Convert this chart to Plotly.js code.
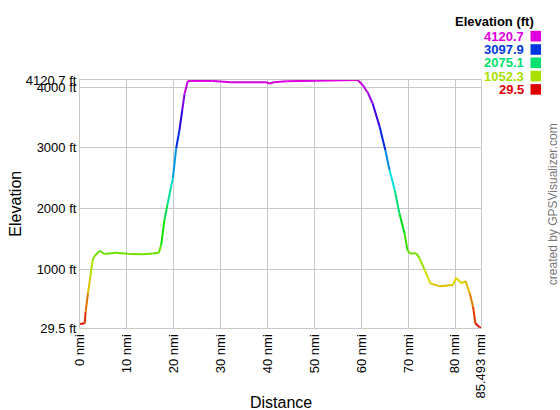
<!DOCTYPE html>
<html><head><meta charset="utf-8">
<script src="https://cdn.plot.ly/plotly-3.0.1.min.js"></script>
<style>html,body{margin:0;padding:0;background:#fff}#chart{width:560px;height:410px}</style>
</head><body><div id="chart"></div>
<script>
const distance = [0, 1.0, 1.2, 1.7, 2.2, 2.7, 3.1, 4.2, 5.2, 7.7, 10.6, 13.4, 15.5, 16.8, 17.3, 18.0, 18.7, 19.4, 19.8, 20.5, 21.2, 21.8, 22.3, 23.0, 28.3, 32.2, 39.7, 40.5, 41.3, 44.0, 50.4, 59.2, 60.3, 61.4, 62.4, 63.9, 65.1, 66.0, 67.1, 68.1, 69.2, 69.8, 70.3, 71.7, 72.4, 73.5, 74.7, 76.7, 79.5, 80.2, 81.3, 82.2, 83.1, 83.8, 84.3, 85.2, 85.493];
const elevation = [95, 107, 298, 605, 875, 1150, 1216, 1303, 1250, 1270, 1250, 1245, 1260, 1270, 1397, 1810, 2085, 2358, 2500, 2990, 3293, 3622, 3897, 4105, 4105, 4083, 4083, 4062, 4083, 4100, 4110, 4120.7, 4034, 3906, 3732, 3347, 2962, 2633, 2304, 1920, 1590, 1315, 1260, 1260, 1178, 985, 766, 717, 738, 858, 766, 804, 601, 380, 107, 40, 29.5];
const xTickVals = [0, 10, 20, 30, 40, 50, 60, 70, 80, 85.493];
const xTickText = ["0 nmi", "10 nmi", "20 nmi", "30 nmi", "40 nmi", "50 nmi", "60 nmi", "70 nmi", "80 nmi", "85.493 nmi"];
const yTickVals = [29.5, 1000, 2000, 3000, 4000, 4120.7];
const yTickText = ["29.5 ft", "1000 ft", "2000 ft", "3000 ft", "4000 ft", "4120.7 ft"];
const legendValues = [4120.7, 3097.9, 2075.1, 1052.3, 29.5];
const legendLabels = ["4120.7", "3097.9", "2075.1", "1052.3", "29.5"];

const eMin = 29.5, eMax = 4120.7;
function colorFor(e) {
  const t = Math.max(0, Math.min(1, (e - eMin) / (eMax - eMin)));
  return 'hsl(' + (300 * t).toFixed(1) + ',100%,44%)';
}

const traces = [];
for (let i = 0; i < distance.length - 1; i++) {
  traces.push({
    type: 'scatter', mode: 'lines',
    x: [distance[i], distance[i + 1]],
    y: [elevation[i], elevation[i + 1]],
    line: {color: colorFor((elevation[i] + elevation[i + 1]) / 2), width: 2},
    hoverinfo: 'skip', showlegend: false
  });
}

const font = "Arial, 'Liberation Sans', sans-serif";
const annotations = [
  {xref: 'paper', yref: 'paper', x: 0.5, y: -0.3, yanchor: 'middle', xanchor: 'center', text: 'Distance', showarrow: false, font: {family: font, size: 16, color: '#000'}},
  {xref: 'paper', yref: 'paper', x: -0.163, y: 0.5, xanchor: 'center', yanchor: 'middle', text: 'Elevation', textangle: -90, showarrow: false, font: {family: font, size: 16, color: '#000'}},
  {xref: 'paper', yref: 'paper', x: 1.18, y: 0.5, xanchor: 'center', yanchor: 'middle', text: 'created by GPSVisualizer.com', textangle: -90, showarrow: false, font: {family: font, size: 12, color: '#777'}},
  {xref: 'paper', yref: 'paper', x: 1.138, y: 1.235, xanchor: 'right', yanchor: 'middle', text: '<b>Elevation (ft)</b>', showarrow: false, font: {family: font, size: 13, color: '#000'}}
];
const shapes = [];
legendValues.forEach((v, k) => {
  const cy = 36.2 + 13.3 * k;
  const yPaper = 1 - (cy - 80) / 248;
  annotations.push({xref: 'paper', yref: 'paper', x: (526 - 80) / 401, y: yPaper, xanchor: 'right', yanchor: 'middle',
    text: '<b>' + legendLabels[k] + '</b>', showarrow: false, font: {family: font, size: 13, color: colorFor(v)}});
  shapes.push({type: 'rect', xref: 'paper', yref: 'paper', x0: (530.5 - 80) / 401, x1: (541 - 80) / 401,
    y0: yPaper - 5.3 / 248, y1: yPaper + 5.3 / 248, fillcolor: colorFor(v), line: {width: 0}});
});

const layout = {
  width: 560, height: 410,
  margin: {l: 80, r: 79, t: 80, b: 82, pad: 0},
  paper_bgcolor: '#fff', plot_bgcolor: '#fff',
  font: {family: font, size: 13, color: '#000'},
  xaxis: {range: [0, 85.493], tickvals: xTickVals, ticktext: xTickText, tickangle: -90, ticks: '',
    showgrid: true, gridcolor: '#c8c8c8', gridwidth: 1, zeroline: false, showline: true, mirror: true, linecolor: '#c8c8c8', linewidth: 1,
    tickfont: {family: font, size: 13, color: '#000'}},
  yaxis: {range: [eMin, eMax], tickvals: yTickVals, ticktext: yTickText, ticks: '',
    showgrid: true, gridcolor: '#c8c8c8', gridwidth: 1, zeroline: false, showline: true, mirror: true, linecolor: '#c8c8c8', linewidth: 1,
    tickfont: {family: font, size: 13, color: '#000'}},
  showlegend: false,
  annotations: annotations,
  shapes: shapes
};
Plotly.newPlot('chart', traces, layout, {staticPlot: true, displayModeBar: false});
</script></body></html>
